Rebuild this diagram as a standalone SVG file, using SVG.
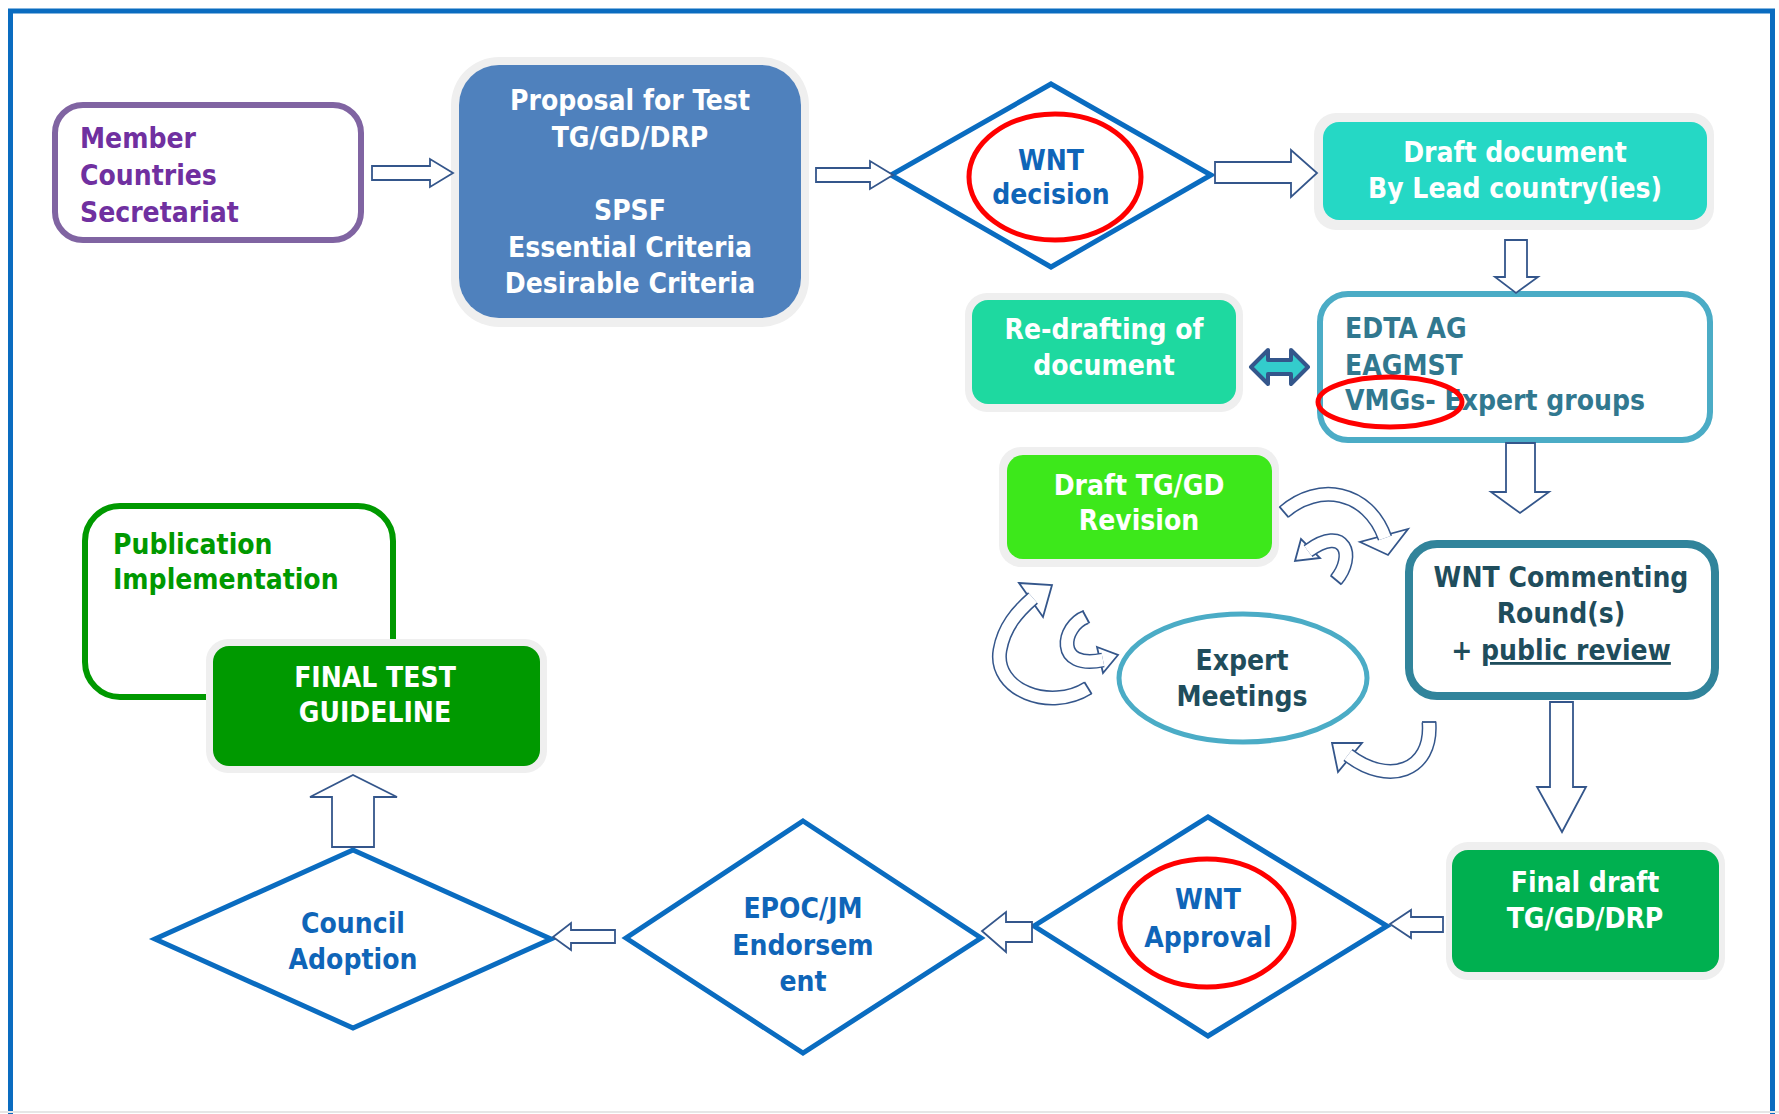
<svg xmlns="http://www.w3.org/2000/svg" width="1779" height="1114" viewBox="0 0 1779 1114">
<defs>
<style>
text{font-family:"DejaVu Sans Condensed","DejaVu Sans","Liberation Sans",sans-serif;font-size:28px;font-weight:bold}
.w{fill:#ffffff}
.c{text-anchor:middle}
.glow{fill:#efefef}
.dia{fill:#ffffff;stroke:#0A6CC0;stroke-width:5;stroke-linejoin:miter}
.blue{fill:#0F65B8}
.red{fill:none;stroke:#FF0000;stroke-width:5}
.ba{fill:#ffffff;stroke:#34568B;stroke-width:1.8;stroke-linejoin:miter}
.bo{fill:none;stroke:#34568B;stroke-width:15}
.bi{fill:none;stroke:#ffffff;stroke-width:12}
.tl{stroke:#34568B;stroke-width:1.8}
</style>
</defs>
<rect width="1779" height="1114" fill="#ffffff"/>
<rect x="10.5" y="11" width="1762" height="1140" fill="none" stroke="#0A6CC0" stroke-width="5"/>
<line x1="0" y1="1112" x2="1779" y2="1112" stroke="#e6e6e6" stroke-width="2"/>

<g id="node-member">
<rect x="55" y="105" width="306" height="135" rx="28" fill="#ffffff" stroke="#8064A2" stroke-width="6"/>
<text x="80" y="148" fill="#7030A0">Member</text>
<text x="80" y="185" fill="#7030A0">Countries</text>
<text x="80" y="222" fill="#7030A0">Secretariat</text>
</g>

<g id="node-proposal">
<rect class="glow" x="451" y="57" width="358" height="270" rx="48"/>
<rect x="459" y="65" width="342" height="253" rx="40" fill="#4F81BD"/>
<text class="w c" x="630" y="110">Proposal for Test</text>
<text class="w c" x="630" y="147">TG/GD/DRP</text>
<text class="w c" x="630" y="220">SPSF</text>
<text class="w c" x="630" y="257">Essential Criteria</text>
<text class="w c" x="630" y="293">Desirable Criteria</text>
</g>

<g id="node-wnt-decision">
<polygon class="dia" points="1051,84 1211,175 1051,267 891,175"/>
<text class="blue c" x="1051" y="170">WNT</text>
<text class="blue c" x="1051" y="204">decision</text>
<ellipse class="red" cx="1055" cy="177" rx="86" ry="63"/>
</g>

<g id="node-draft-document">
<rect class="glow" x="1314" y="113" width="400" height="117" rx="22"/>
<rect x="1323" y="122" width="384" height="98" rx="16" fill="#25D8C5"/>
<text class="w c" x="1515" y="162">Draft document</text>
<text class="w c" x="1515" y="198">By Lead country(ies)</text>
</g>

<g id="node-edta">
<rect x="1320" y="294" width="390" height="146" rx="28" fill="#ffffff" stroke="#4BACC6" stroke-width="6"/>
<text x="1345" y="338" fill="#31788F">EDTA AG</text>
<text x="1345" y="375" fill="#31788F">EAGMST</text>
<text x="1345" y="410" fill="#31788F">VMGs- Expert groups</text>
<ellipse class="red" cx="1390" cy="402" rx="72" ry="25"/>
</g>

<g id="node-redrafting">
<rect class="glow" x="965" y="293" width="278" height="119" rx="22"/>
<rect x="972" y="300" width="264" height="104" rx="16" fill="#1ED9A0"/>
<text class="w c" x="1104" y="339">Re-drafting of</text>
<text class="w c" x="1104" y="375">document</text>
</g>

<g id="node-draft-revision">
<rect class="glow" x="999" y="447" width="280" height="120" rx="22"/>
<rect x="1007" y="455" width="265" height="104" rx="16" fill="#3DE81B"/>
<text class="w c" x="1139" y="495">Draft TG/GD</text>
<text class="w c" x="1139" y="530">Revision</text>
</g>

<g id="node-commenting">
<rect x="1409" y="544" width="306" height="152" rx="28" fill="#ffffff" stroke="#31849B" stroke-width="8"/>
<text class="c" x="1561" y="587" fill="#1F4D5C">WNT Commenting</text>
<text class="c" x="1561" y="623" fill="#1F4D5C">Round(s)</text>
<text class="c" x="1561" y="660" fill="#1F4D5C">+ <tspan text-decoration="underline">public review</tspan></text>
</g>

<g id="node-expert">
<ellipse cx="1243" cy="678" rx="124" ry="64" fill="#ffffff" stroke="#4BACC6" stroke-width="5"/>
<text class="c" x="1242" y="670" fill="#1F4D5C">Expert</text>
<text class="c" x="1242" y="706" fill="#1F4D5C">Meetings</text>
</g>

<g id="node-final-draft">
<rect class="glow" x="1446" y="842" width="279" height="138" rx="22"/>
<rect x="1452" y="850" width="267" height="122" rx="16" fill="#00B050"/>
<text class="w c" x="1585" y="892">Final draft</text>
<text class="w c" x="1585" y="928">TG/GD/DRP</text>
</g>

<g id="node-wnt-approval">
<polygon class="dia" points="1208,817 1387,926 1208,1036 1034,926"/>
<text class="blue c" x="1208" y="909">WNT</text>
<text class="blue c" x="1208" y="947">Approval</text>
<ellipse class="red" cx="1207" cy="923" rx="87" ry="64"/>
</g>

<g id="node-epoc">
<polygon class="dia" points="803,821 981,938 803,1053 626,938"/>
<text class="blue c" x="803" y="918">EPOC/JM</text>
<text class="blue c" x="803" y="955">Endorsem</text>
<text class="blue c" x="803" y="991">ent</text>
</g>

<g id="node-council">
<polygon class="dia" points="353,850 551,939 353,1028 155,939"/>
<text class="blue c" x="353" y="933">Council</text>
<text class="blue c" x="353" y="969">Adoption</text>
</g>

<g id="node-publication">
<rect x="85" y="506" width="308" height="191" rx="35" fill="#ffffff" stroke="#009900" stroke-width="6"/>
<text x="113" y="554" fill="#009900">Publication</text>
<text x="113" y="589" fill="#009900">Implementation</text>
</g>

<g id="node-final-test">
<rect class="glow" x="206" y="639" width="341" height="134" rx="22"/>
<rect x="213" y="646" width="327" height="120" rx="16" fill="#009900"/>
<text class="w c" x="375" y="687">FINAL TEST</text>
<text class="w c" x="375" y="722">GUIDELINE</text>
</g>

<g id="connectors">
<polygon class="ba" points="372,166 430,166 430,159 453,173 430,187 430,180 372,180"/>
<polygon class="ba" points="816,168 870,168 870,161 893,175 870,189 870,182 816,182"/>
<polygon class="ba" points="1215,162 1291,162 1291,150 1317,173 1291,197 1291,183 1215,183"/>
<polygon class="ba" points="1505,240 1527,240 1527,277 1538,277 1516,293 1495,277 1505,277"/>
<polygon class="ba" points="1506,443 1535,443 1535,492 1549,492 1520,513 1491,492 1506,492"/>
<polygon class="ba" points="1550,702 1573,702 1573,787 1586,787 1562,832 1537,787 1550,787"/>
<polygon class="ba" points="1443,917 1411,917 1411,910 1390,924 1411,938 1411,932 1443,932"/>
<polygon class="ba" points="1032,922 1006,922 1006,912 982,931 1006,952 1006,942 1032,942"/>
<polygon class="ba" points="615,930 571,930 571,923 553,937 571,950 571,943 615,943"/>
<polygon class="ba" points="332,847 332,797 310,797 353,775 397,797 374,797 374,847 332,847"/>
<polygon points="1251,367 1268,350 1268,360 1291,360 1291,350 1308,367 1291,384 1291,374 1268,374 1268,384" fill="#33CCCC" stroke="#34568B" stroke-width="4" stroke-linejoin="round"/>

<g id="curve-a">
<polygon class="ba" points="1360,542 1388,555 1408,529"/>
<path class="bo" d="M1284 512 C1318 482 1368 490 1385 538"/>
<path class="bi" d="M1284 512 C1318 482 1368 490 1385 538"/>
<line class="tl" x1="1279.4" y1="506.7" x2="1288.6" y2="517.3"/>
</g>
<g id="curve-b">
<polygon class="ba" points="1301,539 1295,561 1320,558"/>
<path class="bo" d="M1336 580 C1356 556 1345 524 1308 551"/>
<path class="bi" d="M1336 580 C1356 556 1345 524 1308 551"/>
<line class="tl" x1="1330.6" y1="575.5" x2="1341.4" y2="584.5"/>
</g>
<g id="curve-c">
<polygon class="ba" points="1019,583 1052,585 1043,617"/>
<path class="bo" d="M1088 688 C1050 712 993 690 1000 650 C1004 627 1017 612 1033 598"/>
<path class="bi" d="M1088 688 C1050 712 993 690 1000 650 C1004 627 1017 612 1033 598"/>
<line class="tl" x1="1084.3" y1="682" x2="1091.7" y2="694"/>
</g>
<g id="curve-d">
<polygon class="ba" points="1097,647 1118,655 1103,673"/>
<path class="bo" d="M1086 617 C1062 626 1054 670 1103 660"/>
<path class="bi" d="M1086 617 C1062 626 1054 670 1103 660"/>
<line class="tl" x1="1082.6" y1="610.8" x2="1089.4" y2="623.2"/>
</g>
<g id="curve-e">
<polygon class="ba" points="1362,743 1332,743 1338,772"/>
<path class="bo" d="M1429 722 C1433 772 1388 786 1348 755"/>
<path class="bi" d="M1429 722 C1433 772 1388 786 1348 755"/>
<line class="tl" x1="1422" y1="722" x2="1436" y2="722"/>
</g>
</g>
</svg>
